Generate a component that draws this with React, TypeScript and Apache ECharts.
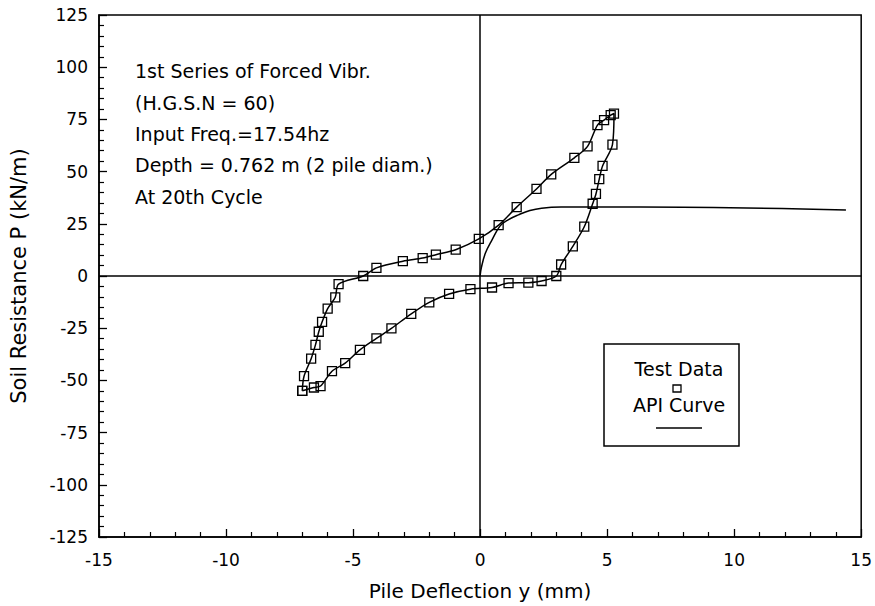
import React, { useEffect, useRef } from "react";
import * as echarts from "echarts";

// Test data hysteresis loop (closed), in mm and kN/m
const loopX = [
  -7.0, -6.54, -6.28, -5.83, -5.31, -4.73, -4.08, -3.49, -2.71, -2.0, -1.22, -0.38, 0.47, 1.12, 1.9, 2.42,
  3.0, 3.19, 3.65, 4.1, 4.43, 4.56, 4.69, 4.82, 5.21, 5.27,
  5.14, 4.88, 4.62, 4.23, 3.71, 2.8, 2.22, 1.44, 0.73, -0.05, -0.96, -1.74, -2.26, -3.04, -4.08, -4.6,
  -5.57, -5.7, -6.0, -6.22, -6.35, -6.48, -6.65, -6.93, -7.0,
];
const loopY = [
  -55.0, -53.4, -52.7, -45.6, -41.7, -35.4, -29.9, -25.1, -18.1, -12.6, -8.6, -6.3, -5.5, -3.4, -3.2, -2.4,
  0.0, 5.5, 14.2, 23.6, 34.6, 39.3, 46.4, 52.7, 62.9, 77.8,
  77.0, 74.7, 72.3, 62.1, 56.6, 48.7, 41.7, 33.0, 24.4, 17.8, 12.6, 10.2, 8.6, 7.1, 3.9, 0.0,
  -3.9, -10.2, -15.6, -22.0, -26.7, -33.0, -39.6, -48.0, -55.0,
];

// API p-y curve
const apiX = [0, 0.05, 0.21, 0.47, 0.79, 1.12, 1.51, 1.96, 2.42, 3.19, 6.31, 14.4];
const apiY = [0, 4.0, 11.0, 17.3, 24.0, 27.0, 29.3, 31.4, 32.5, 33.0, 33.0, 31.6];

const notes = [
  "1st Series of Forced Vibr.",
  "(H.G.S.N = 60)",
  "Input Freq.=17.54hz",
  "Depth = 0.762 m (2 pile diam.)",
  "At 20th Cycle",
];
const legendLabels = ["Test Data", "API Curve"];

const FONT = "'DejaVu Sans', Verdana, sans-serif";

export default function App() {
  const ref = useRef<HTMLDivElement>(null);
  useEffect(() => {
    if (!ref.current) return;
    const chart = echarts.init(ref.current, undefined, { renderer: "svg" });
    const noteY = [71, 103, 134, 165, 197];
    const option: any = {
      animation: false,
      backgroundColor: "#fff",
      grid: {
        left: 93,
        right: 11,
        top: 15,
        bottom: 61,
        show: true,
        borderColor: "#000",
        borderWidth: 1.5,
      },
      xAxis: {
        type: "value",
        min: -15,
        max: 15,
        interval: 5,
        name: "Pile Deflection y (mm)",
        nameLocation: "middle",
        nameGap: 44,
        nameTextStyle: { fontFamily: FONT, fontSize: 20, color: "#000" },
        axisLine: { onZero: false, lineStyle: { color: "#000", width: 1.5 } },
        axisTick: { inside: true, length: 8, lineStyle: { color: "#000", width: 1.3 } },
        minorTick: { show: true, splitNumber: 5, length: 5, lineStyle: { color: "#000", width: 1.2 } },
        splitLine: { show: false },
        axisLabel: { fontFamily: FONT, fontSize: 17, color: "#000", margin: 14 },
      },
      yAxis: {
        type: "value",
        min: -125,
        max: 125,
        interval: 25,
        name: "Soil Resistance P (kN/m)",
        nameLocation: "middle",
        nameGap: 70,
        nameTextStyle: { fontFamily: FONT, fontSize: 21, color: "#000" },
        axisLine: { onZero: false, lineStyle: { color: "#000", width: 1.5 } },
        axisTick: { inside: true, length: 8, lineStyle: { color: "#000", width: 1.3 } },
        minorTick: { show: true, splitNumber: 5, length: 5, lineStyle: { color: "#000", width: 1.2 } },
        splitLine: { show: false },
        axisLabel: { fontFamily: FONT, fontSize: 17, color: "#000", margin: 11 },
      },
      series: [
        {
          name: legendLabels[0],
          type: "line",
          data: loopX.map((x, i) => [x, loopY[i]]),
          smooth: 0.3,
          symbol: "rect",
          symbolSize: [9, 9],
          showSymbol: true,
          itemStyle: { color: "rgba(0,0,0,0)", borderColor: "#000", borderWidth: 1.3 },
          lineStyle: { color: "#000", width: 1.5 },
          z: 3,
        },
        {
          name: legendLabels[1],
          type: "line",
          data: apiX.map((x, i) => [x, apiY[i]]),
          smooth: 0.4,
          showSymbol: false,
          symbol: "none",
          lineStyle: { color: "#000", width: 1.5 },
          markLine: {
            silent: true,
            symbol: "none",
            label: { show: false },
            lineStyle: { color: "#000", width: 1.5, type: "solid" },
            data: [{ xAxis: 0 }, { yAxis: 0 }],
          },
        },
      ],
      graphic: [
        ...notes.map((t, i) => ({
          type: "text",
          x: 135,
          y: noteY[i],
          style: { text: t, font: `19px ${FONT}`, fill: "#000", textAlign: "left", textVerticalAlign: "middle" },
        })),
        {
          type: "rect",
          shape: { x: 604, y: 344, width: 135, height: 102 },
          style: { fill: "#fff", stroke: "#000", lineWidth: 1.5 },
          z: 10,
        },
        {
          type: "text",
          x: 679,
          y: 369,
          style: { text: legendLabels[0], font: `19px ${FONT}`, fill: "#000", textAlign: "center", textVerticalAlign: "middle" },
          z: 11,
        },
        {
          type: "rect",
          shape: { x: 673, y: 385, width: 8, height: 7 },
          style: { fill: "none", stroke: "#000", lineWidth: 1.3 },
          z: 11,
        },
        {
          type: "text",
          x: 679,
          y: 405,
          style: { text: legendLabels[1], font: `19px ${FONT}`, fill: "#000", textAlign: "center", textVerticalAlign: "middle" },
          z: 11,
        },
        {
          type: "line",
          shape: { x1: 656, y1: 428, x2: 702, y2: 428 },
          style: { stroke: "#000", lineWidth: 1.5 },
          z: 11,
        },
      ],
    };
    chart.setOption(option);
    return () => chart.dispose();
  }, []);
  return (
    <div
      ref={ref}
      style={{ position: "fixed", left: 0, top: 0, width: 875, height: 606, background: "#fff" }}
    />
  );
}
